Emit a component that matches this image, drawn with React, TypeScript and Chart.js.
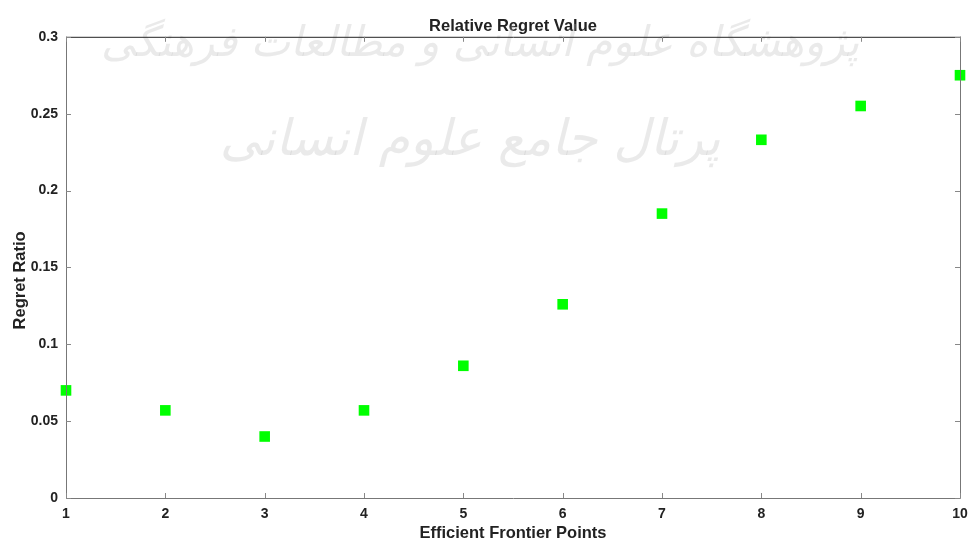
import React, { useEffect, useRef } from "react";
import { Chart, registerables } from "chart.js";

Chart.register(...registerables);

const xValues = [1, 2, 3, 4, 5, 6, 7, 8, 9, 10];
const regretValues = [0.07, 0.057, 0.04, 0.057, 0.086, 0.126, 0.185, 0.233, 0.255, 0.275];
const yTicks = [0, 0.05, 0.1, 0.15, 0.2, 0.25, 0.3];
const titleText = "Relative Regret Value";
const xTitle = "Efficient Frontier Points";
const yTitle = "Regret Ratio";
const watermark1 = "پژوهشگاه علوم انسانی و مطالعات فرهنگی";
const watermark2 = "پرتال جامع علوم انسانی";

const FONT = "'Liberation Sans', Arial, sans-serif";

const boxPlugin = {
  id: "boxTicks",
  beforeDatasetsDraw(chart: any) {
    const { ctx } = chart;
    ctx.save();
    ctx.fillStyle = "rgba(180,180,180,0.28)";
    ctx.textAlign = "center";
    ctx.textBaseline = "middle";
    ctx.font = "italic 42px 'DejaVu Sans'";
    ctx.fillText(watermark1, 480, 45);
    ctx.font = "italic 50px 'DejaVu Sans'";
    ctx.fillText(watermark2, 470, 142);
    ctx.restore();
  },
  afterDatasetsDraw(chart: any) {
    const { ctx, chartArea: a, scales } = chart;
    const xs = scales.x;
    const ys = scales.y;
    ctx.save();
    ctx.lineWidth = 1;
    ctx.strokeStyle = "#777";
    ctx.beginPath();
    ctx.moveTo(a.left + 0.5, a.top);
    ctx.lineTo(a.left + 0.5, a.bottom + 0.5);
    ctx.lineTo(a.right + 0.5, a.bottom + 0.5);
    ctx.lineTo(a.right + 0.5, a.top);
    ctx.stroke();
    ctx.strokeStyle = "#222";
    ctx.beginPath();
    ctx.moveTo(a.left, a.top + 0.5);
    ctx.lineTo(a.right + 1, a.top + 0.5);
    ctx.stroke();
    ctx.strokeStyle = "#888";
    const L = 5;
    ctx.beginPath();
    xValues.forEach((v) => {
      const px = Math.round(xs.getPixelForValue(v)) + 0.5;
      ctx.moveTo(px, a.bottom);
      ctx.lineTo(px, a.bottom - L);
      ctx.moveTo(px, a.top);
      ctx.lineTo(px, a.top + L);
    });
    yTicks.forEach((v) => {
      const py = Math.round(ys.getPixelForValue(v)) + 0.5;
      ctx.moveTo(a.left, py);
      ctx.lineTo(a.left + L, py);
      ctx.moveTo(a.right, py);
      ctx.lineTo(a.right - L, py);
    });
    ctx.stroke();
    // y-axis title
    ctx.fillStyle = "#222";
    ctx.font = "bold 16.5px " + FONT;
    ctx.textAlign = "center";
    ctx.textBaseline = "middle";
    ctx.translate(20, (a.top + a.bottom) / 2 + 13);
    ctx.rotate(-Math.PI / 2);
    ctx.fillText(yTitle, 0, 0);
    ctx.restore();
  },
};

export default function App() {
  const ref = useRef<HTMLCanvasElement>(null);
  useEffect(() => {
    if (!ref.current) return;
    const chart = new Chart(ref.current, {
      type: "scatter",
      data: {
        datasets: [
          {
            data: xValues.map((x, i) => ({ x, y: regretValues[i] })),
            pointStyle: "rect",
            pointRadius: 7.5,
            backgroundColor: "#00ff00",
            borderColor: "#00ff00",
            borderWidth: 0,
          },
        ],
      },
      options: {
        responsive: false,
        animation: false,
        clip: false,
        layout: { padding: { left: 0, right: 9, top: 0, bottom: 0 } },
        plugins: {
          legend: { display: false },
          tooltip: { enabled: false },
          title: {
            display: true,
            text: titleText,
            fullSize: false,
            color: "#222",
            font: { family: FONT, size: 16.5, weight: "bold" },
            padding: { top: 16.5, bottom: 0.5 },
          },
        },
        scales: {
          x: {
            type: "linear",
            min: 1,
            max: 10,
            grid: { display: false, drawTicks: false },
            border: { display: false },
            ticks: {
              stepSize: 1,
              color: "#222",
              padding: 8,
              font: { family: FONT, size: 14, weight: "bold" },
            },
            title: {
              display: true,
              text: xTitle,
              color: "#222",
              padding: { top: 0, bottom: 0 },
              font: { family: FONT, size: 16.5, weight: "bold" },
            },
            afterFit(s: any) {
              s.height = 45;
              s.paddingRight = 9;
              s.paddingLeft = 0;
            },
          },
          y: {
            min: 0,
            max: 0.3,
            grid: { display: false, drawTicks: false },
            border: { display: false },
            afterBuildTicks(s: any) {
              s.ticks = yTicks.map((v) => ({ value: v }));
            },
            ticks: {
              color: "#222",
              padding: 8,
              font: { family: FONT, size: 14, weight: "bold" },
              callback: (v: any) => String(Number(v)),
            },
            title: { display: false },
            afterFit(s: any) {
              s.width = 66;
              s.paddingTop = 0;
              s.paddingBottom = 0;
            },
          },
        },
      },
      plugins: [boxPlugin],
    } as any);
    return () => chart.destroy();
  }, []);
  return (
    <div style={{ position: "fixed", left: 0, top: 0, width: 969, height: 543, background: "#fff" }}>
      <canvas ref={ref} width={969} height={543} />
    </div>
  );
}
